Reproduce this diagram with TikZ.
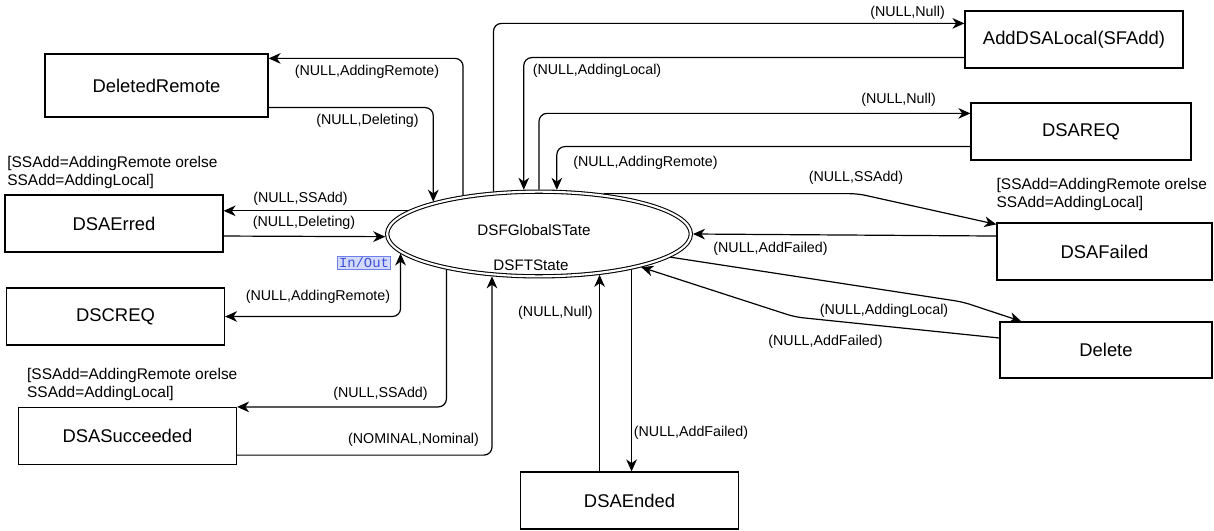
\documentclass[tikz,border=0pt]{standalone}
\usepackage{fontspec}
\setmainfont{Liberation Sans}
\setmonofont{Liberation Mono}
\usetikzlibrary{arrows.meta, shapes.geometric}

\definecolor{iotext}{HTML}{3F51D8}
\definecolor{iofill}{HTML}{D3DAFB}
\definecolor{ioline}{HTML}{6D7FEA}

\begin{document}
\begin{tikzpicture}[
  x=0.75pt, y=-0.75pt,
  box/.style={rectangle, draw, line width=0.9pt, minimum width=163.5pt,
              minimum height=42.75pt, font=\fontsize{13.8}{16}\selectfont},
  glob/.style={ellipse, draw, double, line width=0.8pt, double distance=1.6pt,
               minimum width=227.8pt, minimum height=63.5pt, inner sep=0pt, outer sep=1.6pt},
  stxt/.style={inner sep=0pt, font=\fontsize{11.4}{13}\selectfont},
  lbl/.style={inner sep=0pt, font=\fontsize{10.7}{12}\selectfont},
  guard/.style={inner sep=0pt, align=left, font=\fontsize{11.6}{13.5}\selectfont},
  inout/.style={draw=ioline, fill=iofill, text=iotext, inner sep=1pt,
                font=\ttfamily\fontsize{10.4}{11}\selectfont},
  tip/.style={Stealth[length=9pt, width=8pt, inset=2.8pt]},
  arr/.style={-{Stealth[length=9pt, width=8pt, inset=2.8pt]}, line width=0.9pt, rounded corners=6pt},
  darr/.style={{Stealth[length=9pt, width=8pt, inset=2.8pt]}-{Stealth[length=9pt, width=8pt, inset=2.8pt]},
               line width=0.9pt, rounded corners=6pt},
]
\useasboundingbox (0,0) rectangle (1214,531);

% central state
\node[glob] (gs) at (539,234) {};
\node[stxt] (gname) at (534,230) {DSFGlobalSTate};
\node[stxt] (tname) at (531,265) {DSFTState};
\node[inout] (io) at (364,263) {In/Out};

% left column
\node[box, minimum width=167.25pt, minimum height=47.25pt] (delrem) at (156.5,85.5) {DeletedRemote};
\node[box] (erred) at (114,223.5) {DSAErred};
\node[box] (dscreq) at (115.5,316.5) {DSCREQ};
\node[box] (succ) at (127.5,436) {DSASucceeded};
\node[box] (ended) at (629.5,500.5) {DSAEnded};

% right column
\node[box] (addloc) at (1074,39.5) {AddDSALocal(SFAdd)};
\node[box, minimum width=165pt] (dsareq) at (1081,131.5) {DSAREQ};
\node[box, minimum width=161.25pt] (failed) at (1104.5,251.5) {DSAFailed};
\node[box, minimum width=159pt, minimum height=42pt] (delete) at (1106,350) {Delete};

% guards
\node[guard, anchor=south west] (gerr) at ([xshift=2pt, yshift=3.75pt]erred.north west)
  {[SSAdd=AddingRemote orelse\\SSAdd=AddingLocal]};
\node[guard, anchor=south west] (gsucc) at ([xshift=6.75pt, yshift=4.5pt]succ.north west)
  {[SSAdd=AddingRemote orelse\\SSAdd=AddingLocal]};
\node[guard, anchor=south west] (gfail) at ([yshift=8.25pt]failed.north west)
  {[SSAdd=AddingRemote orelse\\SSAdd=AddingLocal]};

% transitions
\draw[arr] (gs.153.01) |- ([yshift=-3.75pt]delrem.north east);
\draw[arr] ([yshift=7.5pt]delrem.south east) -| (gs.163.06);
\draw[arr] (gs.137.96) |- ([yshift=-9.75pt]addloc.north west);
\draw[arr] ([yshift=8.25pt]addloc.south west) -| (gs.109.87);
\draw[arr] (gs.90) |- ([yshift=-8.25pt]dsareq.north west);
\draw[arr] ([yshift=10.5pt]dsareq.south west) -| (gs.68.97);
\draw[arr] (gs.32.37) -- ++(254,0) -- ([yshift=-1.5pt]failed.north west);
\draw[arr] ([yshift=11.6pt]failed.west) -- (gs.-0.5);
\draw[arr] (gs.-10) -- (963,302) -- ([xshift=16.5pt]delete.north west);
\draw[arr] ([yshift=9pt]delete.west) -- (795,317) -- (gs.-18);
\draw[arr] (gs.-21.53) -- (gs.-21.53 |- ended.north);
\draw[arr] (ended.north -| gs.-34.86) -- (gs.-34.86);
\draw[arr] (gs.201.2) |- (succ.north east);
\draw[arr] ([yshift=7.5pt]succ.south east) -| (gs.222.71);
\draw[darr] (dscreq.east) -| (gs.188.44);
\draw[arr] (gs.170.94) -- (gs.170.94 -| erred.east);
\draw[arr] ([yshift=-9.4pt]erred.east) -- (gs.181);

% transition labels
\node[lbl] (l1) at (367,72) {(NULL,AddingRemote)};
\node[lbl] (l2) at (367.5,121) {(NULL,Deleting)};
\node[lbl] (l3) at (907.5,13) {(NULL,Null)};
\node[lbl] (l4) at (597,71) {(NULL,AddingLocal)};
\node[lbl] (l5) at (898.5,100) {(NULL,Null)};
\node[lbl] (l6) at (645.5,163) {(NULL,AddingRemote)};
\node[lbl] (l7) at (856,178) {(NULL,SSAdd)};
\node[lbl] (l8) at (770.5,249) {(NULL,AddFailed)};
\node[lbl] (l9) at (884,311) {(NULL,AddingLocal)};
\node[lbl] (l10) at (825.5,342) {(NULL,AddFailed)};
\node[lbl] (l11) at (691,433) {(NULL,AddFailed)};
\node[lbl] (l12) at (555.5,313) {(NULL,Null)};
\node[lbl] (l13) at (380.5,394) {(NULL,SSAdd)};
\node[lbl] (l14) at (413.5,440) {(NOMINAL,Nominal)};
\node[lbl] (l15) at (318,297) {(NULL,AddingRemote)};
\node[lbl] (l16) at (300.5,199) {(NULL,SSAdd)};
\node[lbl] (l17) at (304,223) {(NULL,Deleting)};
\end{tikzpicture}
\end{document}
